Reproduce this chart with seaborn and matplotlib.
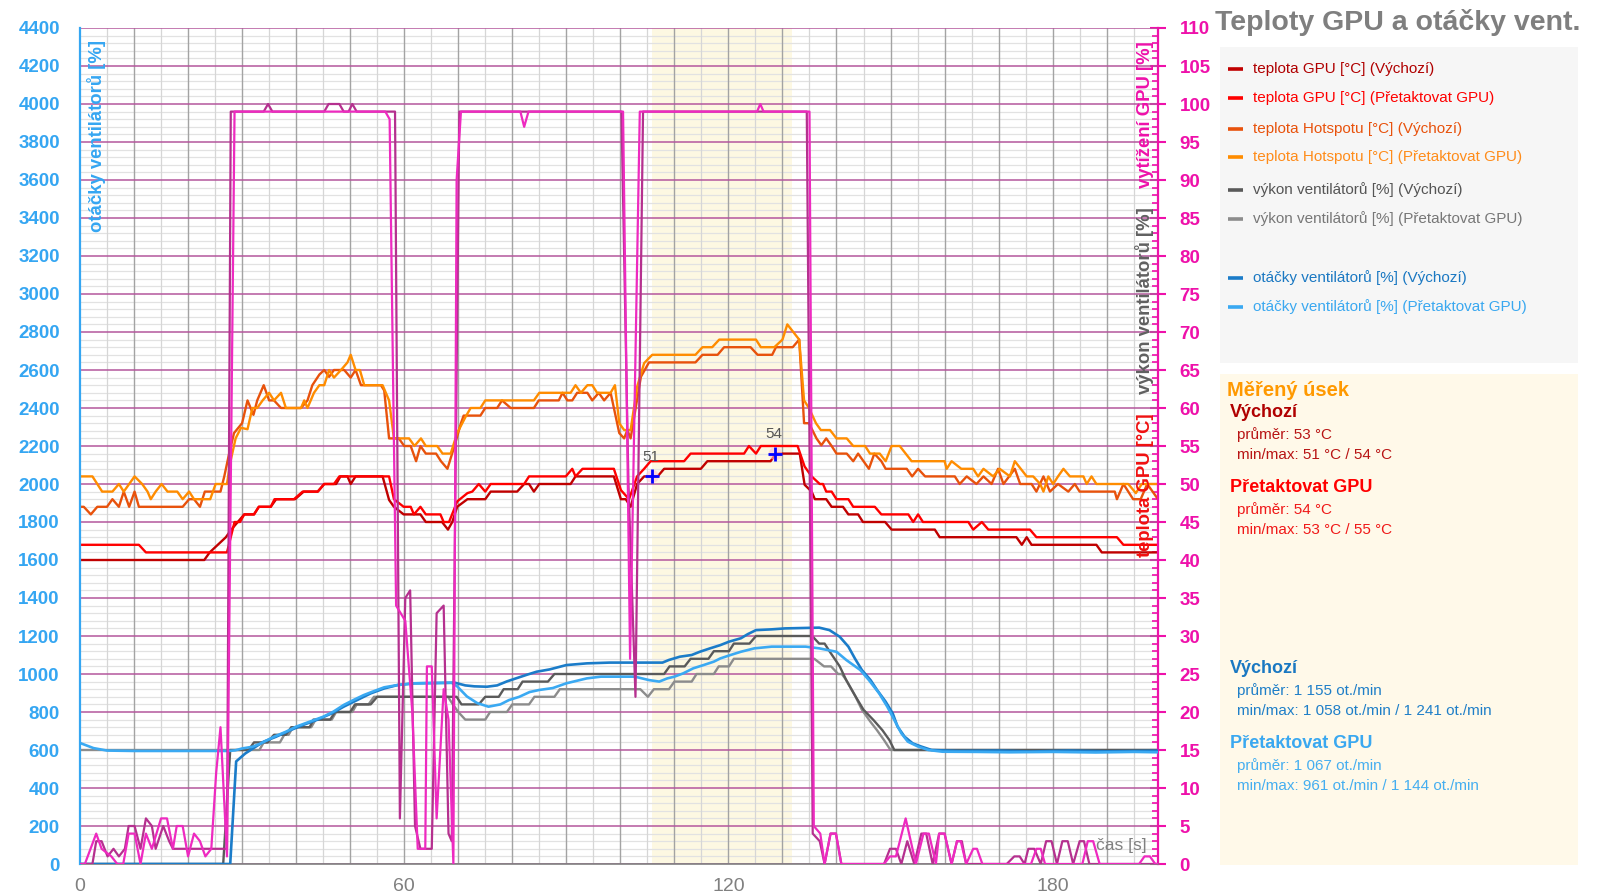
import matplotlib
matplotlib.use("Agg")
import matplotlib.pyplot as plt
import seaborn as sns
import numpy as np
from matplotlib.patches import Rectangle
from matplotlib.lines import Line2D

# ---------------- data (time [s], value) ----------------
gpu_def = [(0,40),(23,40),(24,41),(27,43),(28,44),(29.2,45),(30.4,46),(32.2,46),(33.1,47),(35.3,47),(36.3,48),(39.8,48),
           (41.4,49),(44,49),(45.2,50),(47.4,50),(48.2,51),(49.5,51),(50.1,50),(51,51),(56,51),(57.2,47.9),(58.1,47),
           (59.9,46),(63,46),(64,45),(67,45),(68.1,44),(68.9,45),(69.8,47),(71.7,48),(75,48),(76,49),(80.9,49),(82.2,50),
           (83.1,50),(84,49),(85,50),(90.8,50),(91.7,51),(98.8,51),(100.1,48),(101,48),(101.9,47),(103.1,50),(104.4,51),
           (106.9,51),(108.1,52),(114.9,52),(116.1,53),(127.8,53),(128.8,54),(133.2,54),(134.1,49.9),(135.4,49),(136,48),
           (138.1,48),(139.1,47),(141.2,47),(142.2,46),(144,46),(144.9,45),(149,45),(150.2,44),(158.2,44),(159.1,43),
           (173.3,43),(174.3,42),(175.2,43),(176.1,42),(188.1,42),(189.1,41),(199.5,41)]
gpu_oc = [(0,42),(10.9,42),(12.2,41),(27.2,41),(28.6,45),(29.6,45),(30.4,46),(32.2,46),(33.1,47),(35.3,47),(36,48),
          (39.6,48),(41.2,49),(44,49),(45.2,50),(47,50),(48,51),(57.2,51),(58.1,48),(59.9,47),(61.2,47),(61.8,46),(63,47),
          (64,46),(66.7,46),(67.3,45),(68.3,45),(69.8,47.7),(71.7,48.8),(72.6,49),(73.8,50),(75,49),(76,50),(82.2,50),
          (83.1,51),(89.9,51),(91.1,52),(91.7,51),(93,52),(98.8,52),(100.1,49.2),(101.6,48),(103.1,51),(104.4,52),
          (105.6,53),(111.8,53),(113,54),(122.9,54),(123.8,55),(125.1,54),(126,55),(132.8,55),(134.1,52.3),(135.4,51),
          (136.9,50),(137.5,50),(138.1,49),(139.1,49),(140,48),(142.2,48),(143.1,47),(147.1,47),(148.3,46),(153.3,46),
          (154.2,45),(155.1,46),(156,45),(164.4,45),(165.3,44),(166.9,45),(168.1,44),(175.8,44),(177,43),(191.9,43),
          (193.1,42),(199.5,42)]
hot_def = [(0,47),(0.7,47),(2,46),(3.2,47),(5,47),(6,48),(7.2,47),(8.1,49),(9.1,47),(10.1,49),(10.9,47),(19,47),
           (20.2,48),(21.1,48),(22.2,47),(23.1,49),(26,49),(26.7,51),(27.6,54),(28.5,56.7),(30,58),(31,61),(32.1,59.1),
           (32.8,61),(34,63),(35,61),(35.9,61),(37.2,60),(40.9,60),(42.1,61),(43,63),(44.3,64.4),(45.2,65),(46.1,64.1),
           (47,65),(48.9,65),(50.1,64),(51,65),(52,63),(55.7,63),(56.3,62.3),(57.2,56),(59,56),(60,55),(61.2,55),
           (62.2,53),(63,55),(64,54),(65.9,54),(66.8,53),(68,52),(69.3,55),(70.5,58),(71,59),(74.1,59),(75,60),
           (77.2,60),(78.1,61),(79.7,60),(84,60),(84.9,61),(88.6,61),(89.3,62),(90.2,61),(91.1,61),(92,62),(93.9,62),
           (94.8,61),(96,62),(97,61),(98.2,62),(99.8,56.7),(100.7,56),(101.3,57.1),(101.9,56),(103.8,64.1),(105.3,66),
           (113.9,66),(115.2,67),(118,67),(119.2,68),(124.1,68),(125.4,67),(128.1,67),(128.8,68),(131.9,68),(133.1,69),
           (134,58),(134.9,58),(136.3,56),(137.2,55.1),(138.1,56),(139.1,55),(140,54),(141.9,54),(143.1,53),(144,54),
           (146,52),(147,54),(148.3,53),(149.1,52),(153,52),(154,51),(155.1,52),(156.4,51),(161.9,51),(162.8,50),
           (164.1,51),(165.9,50),(167.2,51),(168.7,50),(169.9,52),(170.9,50),(173,52),(174,50),(176.1,50),(177,49),
           (178.3,51),(179.5,49),(181,50),(182.9,49),(184.1,50),(185,49),(191.5,49),(191.9,48),(193.1,50),(194.9,48),
           (196.3,48),(197.5,50),(199.5,48)]
hot_oc = [(0,51),(2.3,51),(4.1,49),(6,49),(7.2,50),(8.1,49),(9.1,50),(10.1,51),(11.5,50),(12.5,49),(13.1,48),(14,49),
          (15.1,50),(16.2,49),(18,49),(19,48),(20.2,49),(21.1,48),(24.1,48),(25.1,50),(27.2,50),(27.8,52.8),(28.8,56),
          (29.8,57.4),(31,57.2),(31.9,60),(32.8,60),(33.8,61),(35,62),(35.9,61),(37.2,62),(38.1,60),(40.9,60),(41.5,61),
          (42.1,60),(43.3,62),(44.3,63),(45.2,63),(46.1,65),(47,64),(48.3,65),(49.5,66),(50.1,67),(51,65),(51.8,65),
          (52.6,63),(56,63),(57.2,61),(58.1,56),(60.9,56),(61.9,55),(63.1,56),(64,55),(66.1,55),(67.1,54),(68.6,54),
          (69.8,56.7),(71.4,58.9),(72.3,60),(74.1,60),(75,61),(84,61),(85,62),(90.8,62),(91.7,63),(92.7,62),(93.9,63),
          (94.8,63),(95.7,62),(98.2,62),(99,63),(99.8,58),(100.7,57.1),(101.9,57.1),(103.1,62.8),(104.4,65.9),(105.9,67),
          (113.9,67),(115.2,68),(117,68),(118.3,69),(125.1,69),(126,68),(128.5,68),(130,69),(130.9,71),(133.1,69),
          (134,61),(134.9,60),(136.2,58),(137.1,57.1),(138.8,57.1),(140,56),(141.9,56),(143.1,55),(145.3,55),(146.2,54),
          (148,54),(149.1,53),(150.2,55),(151.7,55),(153.9,53),(160,53),(160.4,52),(161.3,53),(163.1,52),(165.3,52),
          (166.2,51),(167.2,52),(169,51),(170.2,52),(172.1,51),(173,53),(175.2,51),(176.4,51),(177.7,50),(178.3,49),
          (179.2,51),(180.1,50),(181,51),(182,52),(183.2,51),(185.7,51),(186.3,50),(187.2,51),(188.1,50),(194,50),
          (195.4,48.8),(196.5,50),(199.5,50)]
fan_def = [(0,0),(26.5,0),(27.8,15),(31.2,15),(32.2,16),(34.7,16),(35.9,17),(38.1,17),(39.1,18),(42.5,18),(43.2,19),
           (46.3,19),(47.2,20),(50,20),(50.9,21),(53.8,21),(55,22),(69.7,22),(70.6,21),(73.8,21),(75,22),(77.5,22),
           (78.4,23),(81,23),(81.9,24),(86.6,24),(87.8,25),(108.1,25),(109.1,26),(111.9,26),(113,27),(116.3,27),(117.3,28),
           (120.1,28),(121,29),(123.9,29),(125.1,30),(135.5,30),(136.8,29),(137.8,29),(138.7,28),(140.6,26),(141.8,24.2),
           (143.4,22.2),(145,20.3),(146.9,18.9),(148.5,17.6),(149.8,16.3),(150.7,15),(199.5,15)]
fan_oc = [(0,15),(33.2,15),(34,16),(37,16),(37.8,17),(38.6,17),(39.4,18),(42.8,18),(43.6,19),(46.6,19),(47.4,20),
          (50.4,20),(51.2,21),(53.4,21),(54.4,22),(68.1,22),(69,21),(70,20),(71.3,19),(75,19),(75.9,20),(79,20),(80,21),
          (83.1,21),(84.1,22),(87.8,22),(88.8,23),(103.7,23),(105.1,22),(106.2,23),(109,23),(110,24),(113.2,24),
          (114.1,25),(117.3,25),(118.2,26),(120.1,26),(121,27),(135.9,27),(137.7,26),(139,26),(140.3,25),(141,25),
          (141.8,24.2),(143.4,22.2),(144.7,20.3),(146.3,18.7),(147.5,17.6),(148.8,16.3),(150,15),(199.5,15)]
rpm_def = [(0,0),(27.8,0),(28.9,540),(30.6,582),(32.5,617),(34,644),(36.3,670),(39,705),(41.3,732),(43.8,758),
           (46.6,793),(48.8,828),(51.3,863),(53.8,898),(56.3,924),(58.8,942),(61.9,951),(69.4,954),(71.3,940),(73,935),
           (75.3,933),(77.2,940),(79,961),(80.9,979),(82.7,996),(84.5,1012),(86.9,1024),(90,1047),(93.8,1056),(98,1060),
           (107.8,1060),(109,1074),(111,1091),(113.2,1100),(114.7,1117),(116.6,1135),(118.5,1152),(120.1,1170),
           (122.3,1188),(123.6,1210),(125.1,1231),(128,1235),(130.5,1240),(136.8,1244),(138.7,1231),(140.6,1196),
           (142.2,1144),(143.4,1082),(144.7,1021),(146.3,968),(147.5,916),(149.1,854),(150.4,793),(151.3,723),
           (152.6,670),(154.1,635),(155.7,618),(157.6,600),(162.6,595),(170,597),(176,592),(183,597),(190,593),(199.5,596)]
rpm_oc = [(0,637),(2.5,610),(5,597),(10,595),(27.5,595),(28.7,598),(30,608),(31.9,617),(33.5,635),(35.9,670),
          (38.1,696),(40,723),(42.5,749),(45,775),(46.9,802),(48.8,837),(50.6,863),(52.5,889),(54.4,910),(56.3,930),
          (58.8,942),(61.9,951),(68.8,954),(69.8,935),(71.6,882),(73.5,847),(75.6,828),(77.8,840),(79.4,863),(81.3,880),
          (83.2,905),(85,916),(87.5,926),(90,951),(93.8,977),(96.4,986),(102.7,986),(105.3,968),(107.2,960),(108.7,977),
          (110,986),(111.6,1003),(113.5,1030),(115.4,1047),(117.3,1065),(118.5,1082),(120.4,1100),(122.3,1117),
          (124.8,1135),(128,1144),(134.3,1144),(136.8,1135),(140,1117),(141.8,1074),(144.4,1021),(146,968),(147.9,898),
          (149.4,828),(150.7,758),(152,688),(153.2,644),(155.1,618),(157,600),(159.6,591),(166,590),(172,588),(180,590),
          (188,587),(195,590),(199.5,588)]
load_def = [(0,0),(2.3,0),(3,3),(4,3),(5.1,1),(6.2,2),(7.2,1),(8.3,2),(9,5),(10.1,5),(11.2,2),(12.2,6),(13.3,5),(14,2),
            (15.4,5),(16.5,3),(17.2,2),(27.2,2),(27.9,99),(34,99),(34.8,100),(35.6,99),(45.2,99),(46,100),(48,100),
            (48.8,99),(49.7,99),(50.4,100),(51.2,99),(58.3,99),(59.2,6),(60.2,35),(61.1,36),(62,5),(63,2),(65.1,2),(66,33),
            (67.3,34),(68.2,4),(68.8,3),(70.2,99),(100.2,99),(101.5,50),(102.8,22),(104.2,99),(134.5,99),(135.6,4),
            (136.9,3),(137.8,0),(138.9,4),(139.9,4),(140.9,0),(148.8,0),(149.9,2),(151,2),(152,0),(153.1,3),(154.4,0),
            (155.7,4),(156.6,4),(157.8,0),(159,4),(160,4),(161.3,0),(162.3,3),(163.2,3),(164,0),(171.5,0),(172.9,1),
            (173.9,1),(174.8,0),(175.5,2),(176.6,2),(177.8,0),(178.8,3),(179.8,3),(180.8,0),(181.8,3),(182.8,3),(183.8,0),
            (185,3),(185.8,3),(186.8,0),(199.5,0)]
load_oc = [(0,0),(0.9,0),(3,4),(4,2),(5.8,1),(6.9,0),(8,0),(9,4),(10.1,4),(11.2,0),(12.2,4),(13.3,2),(15,6),(16.1,6),
           (17.2,2),(17.9,5),(19,5),(20,1),(21.1,4),(22.2,3),(23.2,1),(24.3,2),(25.2,12),(26,18),(27.2,1),(28.6,99),
           (56.5,99),(57.3,98),(58.5,34),(60.2,32),(61.5,20),(62.5,2),(63.9,2),(64.2,26),(65.1,26),(66,6),(67.3,23),
           (68.2,19),(69.1,0),(69.7,90),(70.5,99),(81.5,99),(82.2,97),(83,99),(100.5,99),(101.8,27),(103.6,99),
           (125.3,99),(125.9,100),(126.5,99),(135,99),(135.8,5),(137,4),(137.8,0),(138.9,4),(139.9,4),(140.9,0),
           (148.8,0),(149.9,1),(151,1),(152.8,6),(154.7,0),(156.1,4),(157.1,4),(158.4,0),(159,4),(160,4),(161.3,0),
           (162.3,3),(163,3),(164,0),(165.3,2),(166,2),(167,0),(176,0),(177,2),(177.8,2),(178.6,0),(185.5,0),(186.5,3),
           (187.5,3),(188.7,0),(196,0),(197,1),(198,1),(199,0),(199.5,0)]

measured_span = (105.8, 131.8)
mark_t = [105.9, 128.7]
mark_v = [51, 54]

legend_labels = ["teplota GPU [°C] (Výchozí)", "teplota GPU [°C] (Přetaktovat GPU)",
                 "teplota Hotspotu [°C] (Výchozí)", "teplota Hotspotu [°C] (Přetaktovat GPU)",
                 "výkon ventilátorů [%] (Výchozí)", "výkon ventilátorů [%] (Přetaktovat GPU)",
                 "otáčky ventilátorů [%] (Výchozí)", "otáčky ventilátorů [%] (Přetaktovat GPU)"]
x_ticks = [0, 60, 120, 180]

# ---------------- style ----------------
sns.set_style("white")
plt.rcParams['font.family'] = ['Liberation Sans', 'DejaVu Sans']

C_GPU_D, C_GPU_O = '#c00000', '#ff0000'
C_HOT_D, C_HOT_O = '#e8520c', '#ff8c00'
C_FAN_D, C_FAN_O = '#5a5a5a', '#8c8c8c'
C_RPM_D, C_RPM_O = '#1b7cc9', '#3aa9f2'
C_LD_D, C_LD_O = '#b5308f', '#ee2ac0'
BLUE_AX = '#35a6f2'
MAG_AX = '#ee11aa'
GRAY = '#808080'

W, H = 1599, 896
fig = plt.figure(figsize=(W / 100, H / 100), dpi=100)
L, R, T, B = 80, 1158, 28, 864
rect = [L / W, 1 - B / H, (R - L) / W, (B - T) / H]

ax2 = fig.add_axes(rect)                 # right axis: % / °C (base layer, grid)
ax = fig.add_axes(rect, sharex=ax2)      # left axis: rpm
ax3 = fig.add_axes(rect, sharex=ax2)     # GPU load overlay
ax2.set_zorder(1); ax.set_zorder(2); ax3.set_zorder(3)
ax.patch.set_visible(False)

XMAX = 199.5
ax2.set_xlim(0, XMAX)
ax2.set_ylim(0, 110)
ax.set_ylim(0, 4400)
ax3.set_ylim(0, 110)

# grid
for v in range(0, 111):
    if v % 5 == 0:
        ax2.axhline(v, color='#b4579d', lw=1.1, zorder=0.6)
    else:
        ax2.axhline(v, color='#e2e2e2', lw=0.9, zorder=0.5)
for s in range(5, 200, 5):
    if s % 10 == 0:
        ax2.axvline(s, color='#a3a3a3', lw=1.0, zorder=0.55)
    else:
        ax2.axvline(s, color='#d6d6d6', lw=0.9, zorder=0.5)
ax2.axvspan(*measured_span, color='#fdf8e2', zorder=0.3, lw=0)


def draw(axis, pairs, color, lw):
    t, v = zip(*pairs)
    sns.lineplot(x=list(t), y=list(v), ax=axis, color=color, linewidth=lw,
                 estimator=None, sort=False, legend=False)


draw(ax2, fan_oc, C_FAN_O, 1.7)
draw(ax2, fan_def, C_FAN_D, 1.7)
draw(ax2, hot_def, C_HOT_D, 1.7)
draw(ax2, hot_oc, C_HOT_O, 1.7)
draw(ax2, gpu_def, C_GPU_D, 1.7)
draw(ax2, gpu_oc, C_GPU_O, 1.7)
draw(ax, rpm_def, C_RPM_D, 1.9)
draw(ax, rpm_oc, C_RPM_O, 1.9)
draw(ax3, load_def, C_LD_D, 1.6)
draw(ax3, load_oc, C_LD_O, 1.6)

# min/max markers
sns.scatterplot(x=mark_t, y=mark_v, ax=ax3, s=90, color='#ffc0d0', alpha=0.6, edgecolor='none', legend=False)
sns.scatterplot(x=mark_t, y=mark_v, ax=ax3, marker='+', s=110, color='#0000ff', linewidth=2, legend=False)
for tt, vv in zip(mark_t, mark_v):
    ax3.annotate(f"{vv}", (tt, vv), xytext=(-1, 9), textcoords='offset points', ha='center', va='bottom',
                 fontsize=11, color='#555555')

ax2.set_xlim(0, XMAX)
ax2.set_ylim(0, 110)
ax.set_ylim(0, 4400)
ax3.set_ylim(0, 110)
for a in (ax, ax2, ax3):
    a.set_xlabel('')
    a.set_ylabel('')

# ---- axes styling ----
ax3.axis('off')

for sp in ('top', 'right', 'bottom'):
    ax.spines[sp].set_visible(False)
ax.spines['left'].set_color(BLUE_AX)
ax.spines['left'].set_linewidth(1.6)
ax.tick_params(axis='x', which='both', bottom=False, labelbottom=False, top=False)
ax.set_yticks(range(0, 4401, 200))
ax.set_yticklabels([str(v) for v in range(0, 4401, 200)], fontweight='bold')
ax.set_yticks(range(0, 4401, 40), minor=True)
ax.tick_params(axis='y', which='major', direction='inout', length=11, width=1.5, color=BLUE_AX,
               labelcolor=BLUE_AX, labelsize=13.5, pad=9)
ax.tick_params(axis='y', which='minor', direction='in', length=4, width=1.2, color=BLUE_AX)

ax2.spines['top'].set_visible(False)
ax2.spines['left'].set_visible(False)
ax2.spines['right'].set_color(MAG_AX)
ax2.spines['right'].set_linewidth(1.6)
ax2.spines['bottom'].set_color(GRAY)
ax2.spines['bottom'].set_linewidth(1.2)
ax2.yaxis.tick_right()
ax2.set_yticks(range(0, 111, 5))
ax2.set_yticklabels([str(v) for v in range(0, 111, 5)], fontweight='bold')
ax2.set_yticks(range(0, 111, 1), minor=True)
ax2.tick_params(axis='y', which='major', direction='inout', length=11, width=1.5, color=MAG_AX,
                labelcolor=MAG_AX, labelsize=13.5, pad=10)
ax2.tick_params(axis='y', which='minor', direction='in', length=4, width=1.2, color=MAG_AX)
ax2.set_xticks(x_ticks)
ax2.set_xticklabels([str(v) for v in x_ticks])
ax2.set_xticks(np.arange(0, 200, 5), minor=True)
ax2.tick_params(axis='x', which='both', direction='out', length=7, width=1.1, color=GRAY,
                labelcolor=GRAY, labelsize=14, pad=3)


def fx(px):
    return px / W


def fy(py):
    return 1 - py / H


# in-plot axis titles
fig.text(fx(97), fy(40), "otáčky ventilátorů [%]", rotation=90, ha='center', va='top',
         fontsize=13.3, fontweight='bold', color=BLUE_AX, zorder=10)
fig.text(fx(1145), fy(41), "vytížení GPU [%]", rotation=90, ha='center', va='top',
         fontsize=13.3, fontweight='bold', color=MAG_AX, zorder=10)
fig.text(fx(1145), fy(207), "výkon ventilátorů [%]", rotation=90, ha='center', va='top',
         fontsize=13.3, fontweight='bold', color='#606060', zorder=10)
fig.text(fx(1145), fy(413), "teplota GPU [°C]", rotation=90, ha='center', va='top',
         fontsize=13.3, fontweight='bold', color='#f01010', zorder=10)
fig.text(fx(1121), fy(845), "čas [s]", ha='center', va='center', fontsize=12.5, color=GRAY, zorder=10)

# title
fig.text(fx(1215), fy(23), "Teploty GPU a otáčky vent.", ha='left', va='center',
         fontsize=20.5, fontweight='bold', color='#7f7f7f')


def box(x0, y0, x1, y1, color):
    fig.add_artist(Rectangle((fx(x0), fy(y1)), (x1 - x0) / W, (y1 - y0) / H, transform=fig.transFigure,
                             facecolor=color, edgecolor='none', zorder=0))


box(1220, 47, 1578, 363, '#f6f6f6')
box(1220, 374, 1578, 865, '#fff9e9')

leg_colors = [C_GPU_D, C_GPU_O, C_HOT_D, C_HOT_O, C_FAN_D, C_FAN_O, C_RPM_D, C_RPM_O]
leg_text_colors = ['#b00000', '#ff0000', '#e8520c', '#ff8c1a', '#555555', '#777777', '#1a78c2', '#3aa8f0']
leg_y = [69, 98, 129, 157, 190, 219, 278, 307]
for lab, c, tc, yy in zip(legend_labels, leg_colors, leg_text_colors, leg_y):
    fig.add_artist(Line2D([fx(1228), fx(1243)], [fy(yy), fy(yy)], transform=fig.transFigure,
                          color=c, lw=2.6, solid_capstyle='butt'))
    fig.text(fx(1253), fy(yy), lab, ha='left', va='center', fontsize=11, color=tc)

# measured-section stats
fig.text(fx(1227), fy(390), "Měřený úsek", ha='left', va='center', fontsize=14.5, fontweight='bold', color='#ff9900')
stats = [
    ("Výchozí", '#b00000', ["průměr: 53 °C", "min/max: 51 °C / 54 °C"], 412, '#b81414'),
    ("Přetaktovat GPU", '#ff0000', ["průměr: 54 °C", "min/max: 53 °C / 55 °C"], 487, '#f01818'),
    ("Výchozí", '#1a78c2', ["průměr: 1 155 ot./min", "min/max: 1 058 ot./min / 1 241 ot./min"], 668, '#1f7fc8'),
    ("Přetaktovat GPU", '#3aa8f0', ["průměr: 1 067 ot./min", "min/max: 961 ot./min / 1 144 ot./min"], 743, '#45aef0'),
]
for head, hc, lines, yy, lc in stats:
    fig.text(fx(1230), fy(yy), head, ha='left', va='center', fontsize=13, fontweight='bold', color=hc)
    for i, ln in enumerate(lines):
        fig.text(fx(1237), fy(yy + 23 + i * 20), ln, ha='left', va='center', fontsize=11, color=lc)

fig.savefig("out.png", dpi=100)
